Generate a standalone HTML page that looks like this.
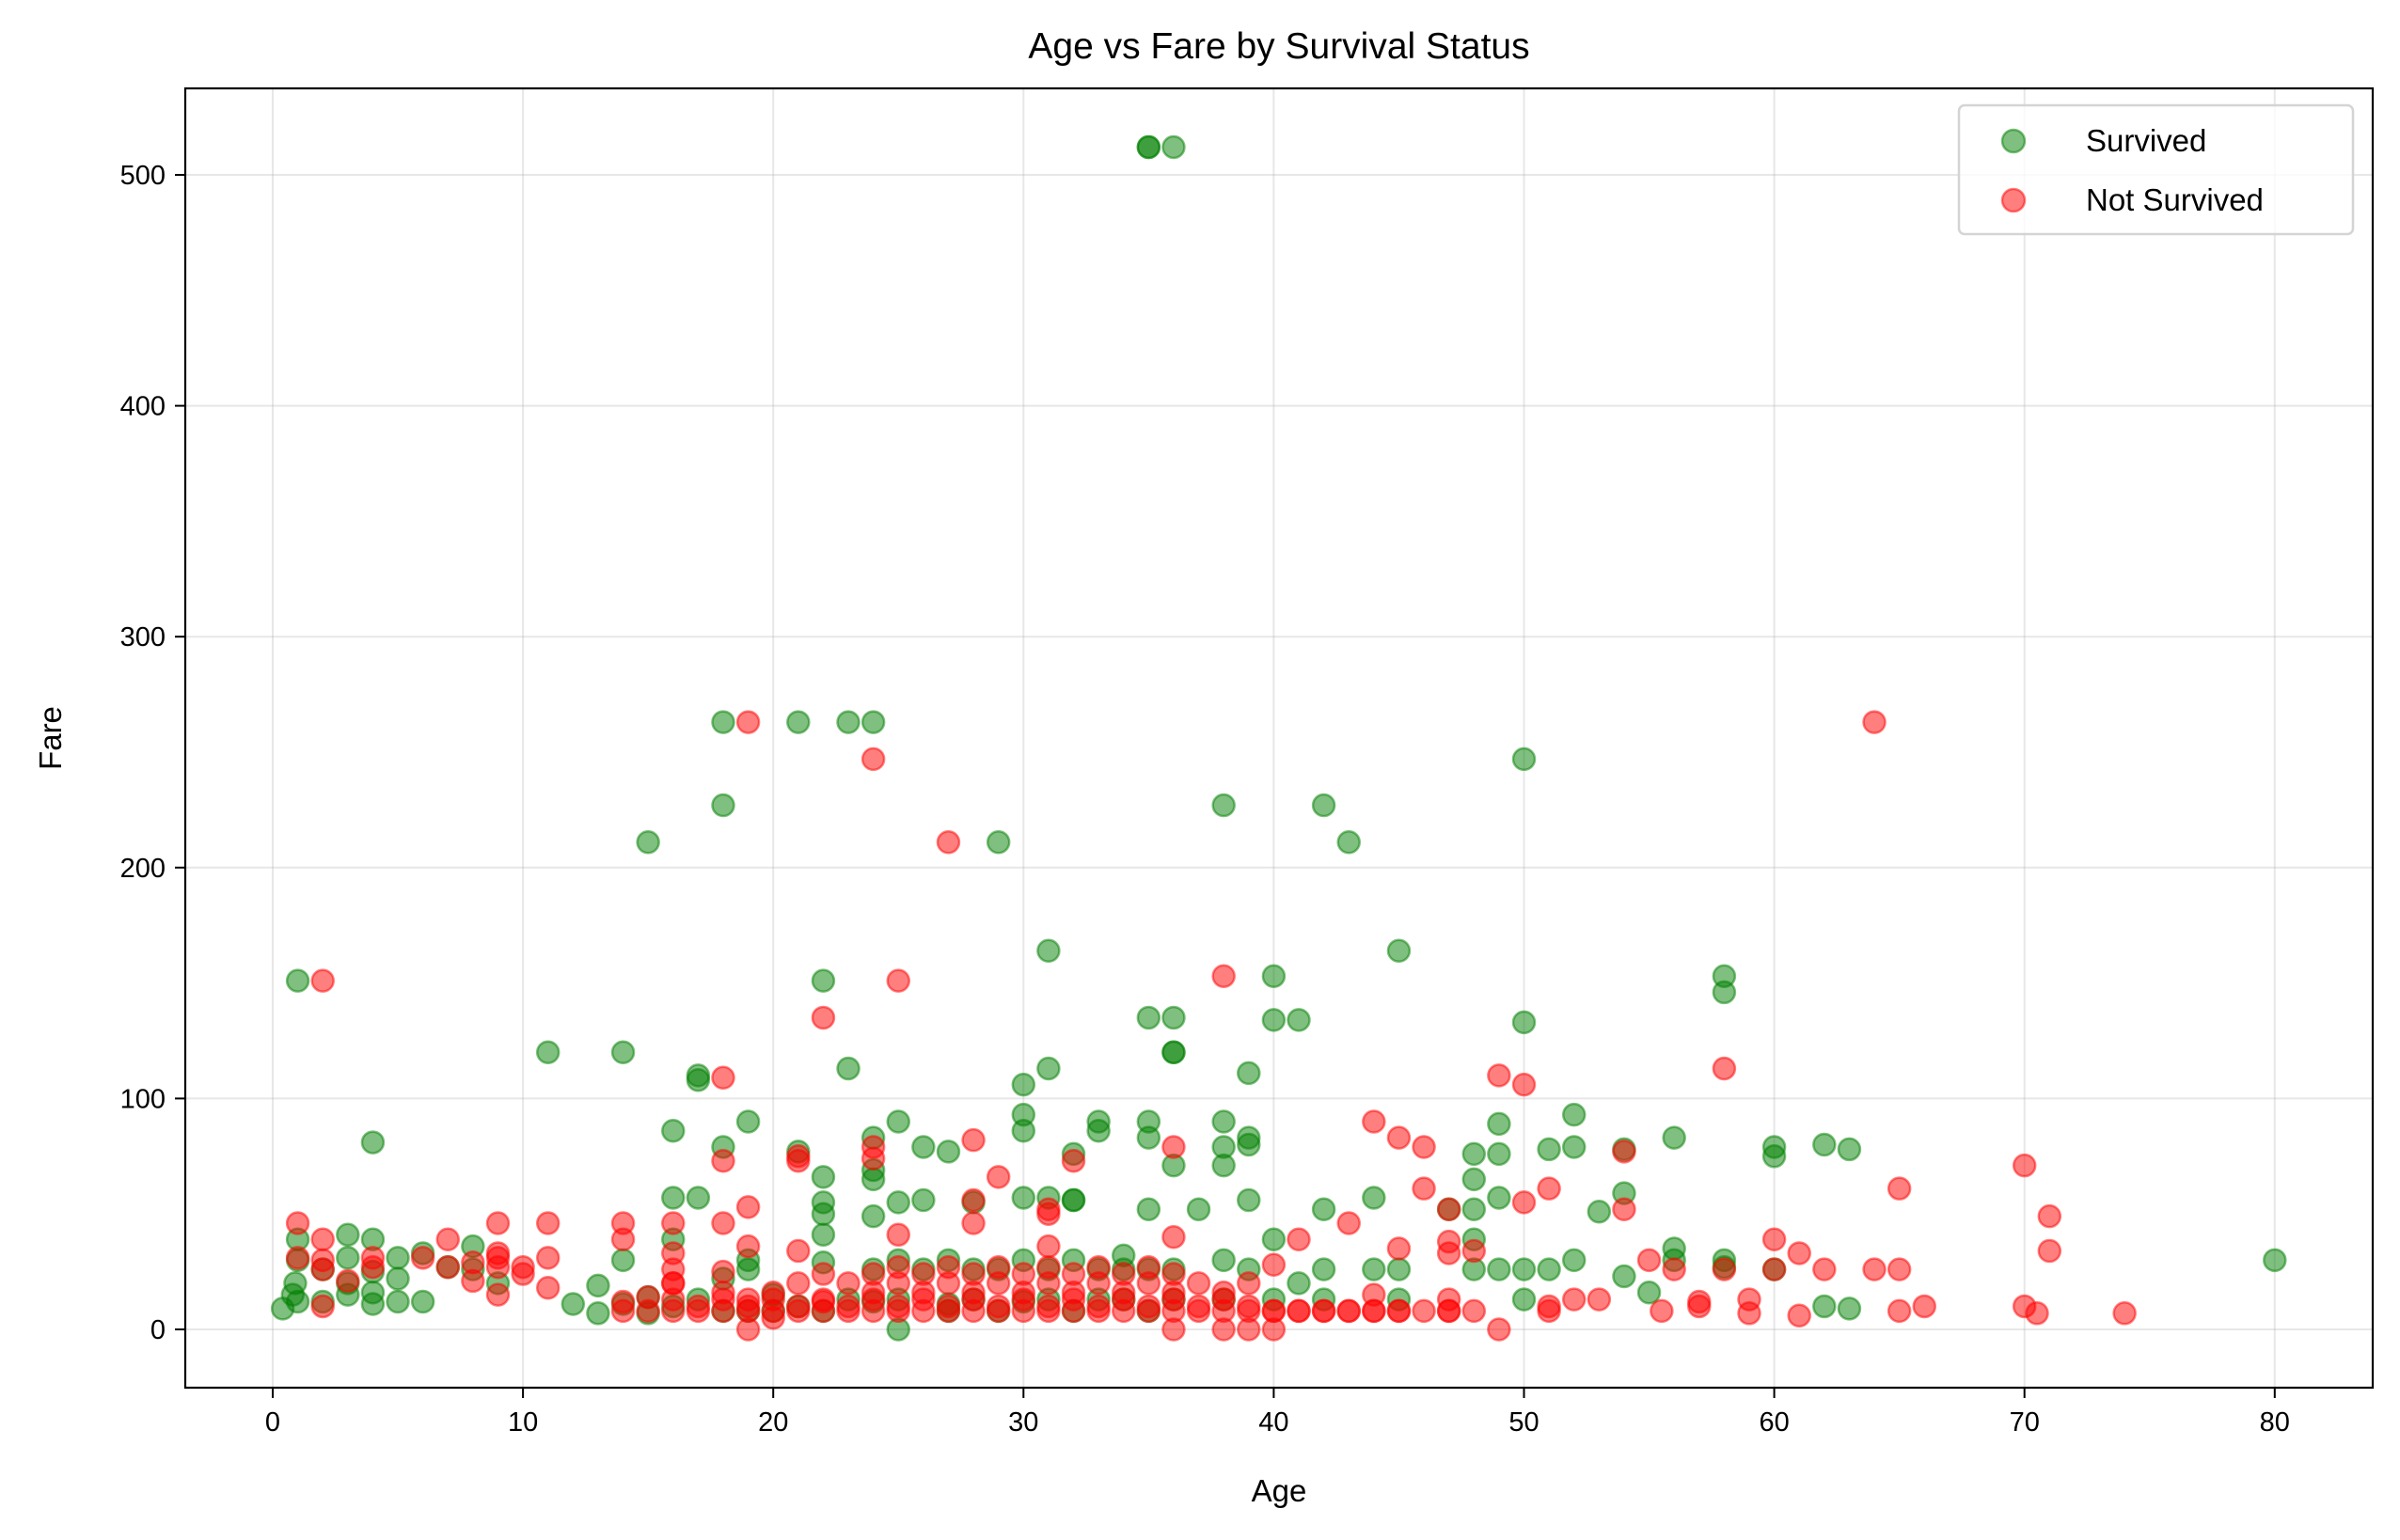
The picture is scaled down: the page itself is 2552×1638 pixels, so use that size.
<!DOCTYPE html>
<html><head><meta charset="utf-8"><title>Age vs Fare by Survival Status</title>
<style>html,body{margin:0;padding:0;background:#fff;}svg{display:block;font-family:"Liberation Sans","DejaVu Sans",sans-serif;}</style>
</head><body>
<svg id="chart" width="2552" height="1638" viewBox="0 0 2552 1638" xmlns="http://www.w3.org/2000/svg">
<rect width="2552" height="1638" fill="#fff"/>
<g id="grid"></g>
<g id="points"></g>
<rect x="197" y="94" width="2326" height="1382" fill="none" stroke="#000" stroke-width="2.2"/>
<g id="ticks"></g>
<text x="1360" y="62" font-size="39" text-anchor="middle">Age vs Fare by Survival Status</text>
<text x="1360" y="1597" font-size="33" text-anchor="middle">Age</text>
<text x="65" y="785" font-size="33" text-anchor="middle" transform="rotate(-90 65 785)">Fare</text>
<g>
<rect x="2083" y="112" width="419" height="137" rx="6" fill="#fff" fill-opacity="0.8" stroke="#d4d4d4" stroke-width="2.5"/>
<g>
<circle cx="2141" cy="150" r="12" fill="#008000" fill-opacity="0.5" stroke="#008000" stroke-opacity="0.5" stroke-width="2.5"/>
<text x="2218" y="161" font-size="33">Survived</text></g>
<g>
<circle cx="2141" cy="213" r="12" fill="#ff0000" fill-opacity="0.5" stroke="#ff0000" stroke-opacity="0.5" stroke-width="2.5"/>
<text x="2218" y="224" font-size="33">Not Survived</text></g>
</g>
</svg>
<script>
const xTicks=[0,10,20,30,40,50,60,70,80];
const yTicks=[0,100,200,300,400,500];
const survivedAge=[35,35,36,18,21,23,24,18,38,42,15,29,43,50,1,22,40,58,58,31,45,11,14,36,36,17,17,23,31,39,35,36,40,41,50,30,4,16,19,25,30,30,33,33,35,35,38,39,39,49,52,18,21,24,26,27,32,38,48,49,51,52,54,56,60,60,62,63,22,24,24,37,38,36,48,16,17,22,22,25,26,28,30,31,32,32,39,42,44,48,49,53,54,22,24,35,40,48,58,80,62,63,55,56,
0.4,0.8,0.9,1,1,1,2,2,3,3,3,3,4,4,4,4,5,5,5,6,6,7,8,8,9,12,13,13,14,14,15,15,16,16,17,18,18,19,19,19,20,20,21,22,22,23,24,24,25,25,25,26,27,27,27,28,28,29,29,30,30,31,31,32,32,33,33,34,34,34,35,35,36,36,38,38,39,40,41,42,42,44,45,45,47,48,49,50,50,51,52,54,56,58,60];
const survivedFare=[512,512,512,263,263,263,263,227,227,227,211,211,211,247,151,151,153,153,146,164,164,120,120,120,120,110,108,113,113,111,135,135,134,134,133,106,81,86,90,90,93,86,90,86,90,83,90,83,80,89,93,79,77,83,79,77,76,79,76,76,78,79,78,83,79,75,80,78,66,65,69,52,71,71,65,57,57,55,50,55,56,55,57,57,56,56,56,52,57,52,57,51,59,41,49,52,39,39,27,30,10,9,16,35,
9,15,20,30,39,12,12,26,41,31,20,15,39,25,16,11,31,22,12,33,12,27,36,26,20,11,7,19,30,11,7,14,39,10,13,22,8,26,30,8,15,8,10,29,8,13,26,12,0,30,13,26,30,11,8,26,13,26,8,30,12,26,13,30,8,26,13,32,26,13,26,8,26,13,30,13,26,13,20,26,13,26,13,26,52,26,26,13,26,26,30,23,30,30,26];
const diedAge=[19,24,64,27,2,25,22,38,18,58,
49,50,44,45,46,36,21,21,28,18,
32,29,24,24,47,54,65,70,71,71,
51,46,50,54,43,28,19,31,31,1,
7,9,11,14,14,16,2,25,28,36,
41,47,48,55,60,61,62,64,65,60,
58,56,59,66,65,70,70.5,74,61,59,
57,57,55.5,49,38,39,40,36,19,20,
21,31,19,40,44,45,47,53,52,51,
51,48,47,47,45,44,43,42,41,40,
1,2,2,2,3,4,4,6,7,8,
8,9,9,9,9,10,10,11,11,14,
14,15,16,16,16,18,18,19,
15,16,16,17,17,18,18,19,19,20,
20,21,21,22,22,23,23,24,24,25,
25,26,26,27,27,28,28,29,29,30,
30,31,31,32,32,33,33,34,34,35,
35,36,36,37,37,38,38,39,39,40,
41,42,43,44,45,46,47,
18,20,22,24,26,28,30,32,34,36,38,16,21,23,25,27,29,31,33,35,37,39,22,24,26,28,30,32,34,36,25,27,29,31,33,35];
const diedFare=[263,247,263,211,151,151,135,153,109,113,
110,106,90,83,79,79,73,75,82,73,
73,66,79,74,52,77,61,71,49,34,
61,61,55,52,46,56,53,50,52,46,
39,46,46,46,39,46,39,41,46,40,
39,38,34,30,39,33,26,26,26,26,
26,26,13,10,8,10,7,7,6,7,
12,10,8,0,0,0,0,0,0,5,
34,36,36,28,15,35,33,13,13,8,
10,8,8,13,8,8,8,8,8,8,
31,30,26,10,21,31,27,31,27,21,
29,31,27,15,33,27,24,31,18,8,
12,14,26,20,33,46,25,13,
8,8,13,8,10,8,13,8,10,8,
13,8,10,8,13,8,10,8,13,8,
10,8,13,8,10,8,13,8,10,8,
13,8,10,8,13,8,10,8,13,8,
10,8,13,8,10,8,13,8,10,8,
8,8,8,8,8,8,8,
16,16,12,16,16,16,16,16,16,16,16,20,20,20,20,20,20,20,20,20,20,20,24,24,24,24,24,24,24,24,27,27,27,27,27,27];
const X0=290,XS=26.61,Y0=1414,YS=2.456;
function xs(a){return X0+a*XS;}
function ys(f){return Y0-f*YS;}
const NS="http://www.w3.org/2000/svg";
const grid=document.getElementById('grid'),ticks=document.getElementById('ticks'),pts=document.getElementById('points');
xTicks.forEach(function(t){
  const x=xs(t);
  const g=document.createElementNS(NS,'line');
  
  
  g.setAttribute('x1',x);g.setAttribute('x2',x);g.setAttribute('y1',94);g.setAttribute('y2',1476);
  g.setAttribute('stroke','#b0b0b0');g.setAttribute('stroke-opacity','0.3');g.setAttribute('stroke-width','2');
  grid.appendChild(g);
  const tk=document.createElementNS(NS,'line');
  
  
  tk.setAttribute('x1',x);tk.setAttribute('x2',x);tk.setAttribute('y1',1476);tk.setAttribute('y2',1487);
  tk.setAttribute('stroke','#000');tk.setAttribute('stroke-width','2');
  ticks.appendChild(tk);
  const tx=document.createElementNS(NS,'text');
  
  
  tx.setAttribute('x',x);tx.setAttribute('y',1522);tx.setAttribute('font-size','29');tx.setAttribute('text-anchor','middle');
  tx.textContent=t;
  ticks.appendChild(tx);
});
yTicks.forEach(function(t){
  const y=ys(t);
  const g=document.createElementNS(NS,'line');
  
  
  g.setAttribute('x1',197);g.setAttribute('x2',2523);g.setAttribute('y1',y);g.setAttribute('y2',y);
  g.setAttribute('stroke','#b0b0b0');g.setAttribute('stroke-opacity','0.3');g.setAttribute('stroke-width','2');
  grid.appendChild(g);
  const tk=document.createElementNS(NS,'line');
  
  
  tk.setAttribute('x1',186);tk.setAttribute('x2',197);tk.setAttribute('y1',y);tk.setAttribute('y2',y);
  tk.setAttribute('stroke','#000');tk.setAttribute('stroke-width','2');
  ticks.appendChild(tk);
  const tx=document.createElementNS(NS,'text');
  
  
  tx.setAttribute('x',176);tx.setAttribute('y',y+10);tx.setAttribute('font-size','29');tx.setAttribute('text-anchor','end');
  tx.textContent=t;
  ticks.appendChild(tx);
});
function draw(ages,fares,color,name){
  const n=Math.min(ages.length,fares.length);
  for(let i=0;i<n;i++){
    const c=document.createElementNS(NS,'circle');
    
    
    c.setAttribute('cx',xs(ages[i]));c.setAttribute('cy',ys(fares[i]));c.setAttribute('r','11.5');
    c.setAttribute('fill',color);c.setAttribute('fill-opacity','0.5');
    c.setAttribute('stroke',color);c.setAttribute('stroke-opacity','0.5');c.setAttribute('stroke-width','2.5');
    pts.appendChild(c);
  }
}
draw(survivedAge,survivedFare,'#008000','survived-point');
draw(diedAge,diedFare,'#ff0000','not-survived-point');
</script>
</body></html>
